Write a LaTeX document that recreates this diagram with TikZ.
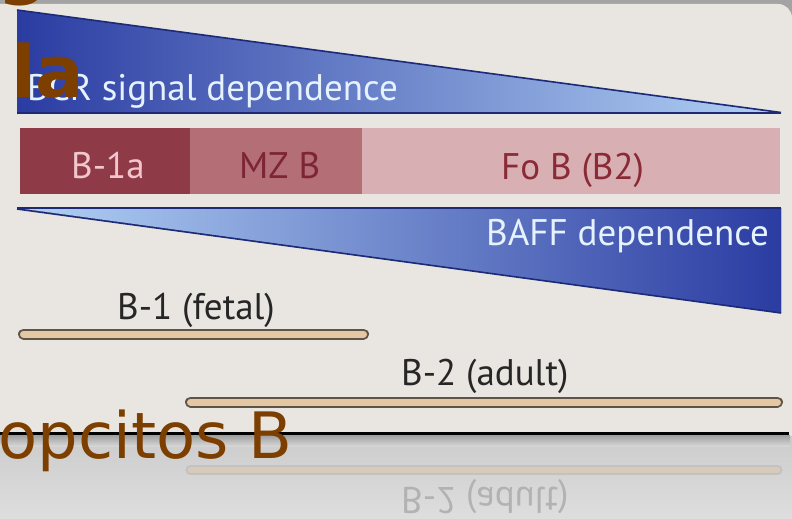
\documentclass[tikz,border=0pt]{standalone}
\usepackage{fontspec}
\setmainfont{PT Sans}
\newfontfamily\titlefont{DejaVu Sans}
\definecolor{bgc}{HTML}{E9E6E1}
\definecolor{topgrey}{HTML}{A3A3A3}
\definecolor{navy}{HTML}{1C2A78}
\definecolor{bluedark}{HTML}{2B3CA2}
\definecolor{bluemid}{HTML}{4A7CCA}
\definecolor{bluelight}{HTML}{B2D2F5}
\definecolor{wtext}{HTML}{E6F3FF}
\definecolor{boxa}{HTML}{8E3A47}
\definecolor{boxb}{HTML}{B36F75}
\definecolor{boxc}{HTML}{D8B0B4}
\definecolor{txta}{HTML}{F2C6CC}
\definecolor{txtb}{HTML}{7E2535}
\definecolor{txtc}{HTML}{8A2A36}
\definecolor{barout}{HTML}{5E5448}
\definecolor{barin}{HTML}{E4C8A4}
\definecolor{brown}{HTML}{7D3F00}
\tikzset{
  lbl/.style={anchor=base west, inner sep=0pt, font=\fontsize{37}{42}\selectfont},
  ttl/.style={anchor=base west, inner sep=0pt, text=brown},
}
\begin{document}
\begin{tikzpicture}[x=1pt,y=-1pt]
\useasboundingbox (0,0) rectangle (792,519);
% background
\fill[topgrey] (0,0) rectangle (792,519);
\fill[bgc] (0,436) -- (0,4) [rounded corners=14] -- (792,4) [sharp corners] -- (792,436) -- cycle;
\fill[top color=black!20, bottom color=black!13] (0,436) rectangle (792,519);
% BCR wedge
\fill[left color=bluedark, middle color=bluemid, right color=bluelight] (17,10) -- (781,113) -- (17,114) -- cycle;
\draw[navy, line width=1.6] (17,10) -- (781,112.5);
\draw[navy, line width=1.6] (17,113) -- (781,113);
\node[lbl, text=wtext] (bcr) at (27,100) {BCR signal dependence};
% bar
\fill[boxa] (20,128) rectangle (190,194);
\fill[boxb] (190,128) rectangle (362,194);
\fill[boxc] (362,128) rectangle (780,194);
\node[lbl, text=txta] (b1a) at (71,178) {B-1a};
\node[lbl, text=txtb] (mzb) at (239,178) {MZ B};
\node[lbl, text=txtc] (fob) at (501,179) {Fo B (B2)};
% BAFF wedge
\fill[left color=bluelight, middle color=bluemid, right color=bluedark] (17,208) -- (781,208) -- (781,313) -- cycle;
\draw[navy, line width=1.6] (17,208) -- (781,208);
\draw[navy, line width=1.6] (17,209) -- (781,313);
\node[lbl, text=wtext] (baff) at (486,245) {BAFF dependence};
% lineage bars
\node[lbl, text=black!85] (b1) at (117,319) {B-1 (fetal)};
\coordinate (b1s) at (23.5,334);
\coordinate (b1e) at (363.5,334);
\draw[barout, line width=11, line cap=round] (b1s) -- (b1e);
\draw[barin, line width=7, line cap=round] (b1s) -- (b1e);
\node[lbl, text=black!85] (b2) at (401,385) {B-2 (adult)};
\coordinate (b2s) at (190.5,402);
\coordinate (b2e) at (777.5,402);
\draw[barout, line width=11, line cap=round] (b2s) -- (b2e);
\draw[barin, line width=7, line cap=round] (b2s) -- (b2e);
% floor line and shadow
\fill[top color=black!38, bottom color=black!16] (0,435) rectangle (790,446);
\draw[black, line width=3] (0,433.5) -- (789,433.5);
% reflection
\coordinate (r2s) at (190.5,470);
\coordinate (r2e) at (777.5,470);
\draw[black!24, line width=10, line cap=round] (r2s) -- (r2e);
\draw[black!17!barin!60!white, line width=6, line cap=round] (r2s) -- (r2e);
\node[lbl, text=black!30, yscale=-1, transform shape] (b2r) at (401,487) {B-2 (adult)};
% title fragments
\begin{scope}
\clip (0,0) rectangle (792,519);
\node[ttl, font=\titlefont\bfseries\fontsize{72}{80}\selectfont] (tg) at (-3,-9) {g};
\end{scope}
\node[ttl, font=\titlefont\bfseries\fontsize{72}{80}\selectfont] (tla) at (11,97) {la};
\node[ttl, font=\titlefont\fontsize{64}{70}\selectfont] (top) at (-2,458) {opcitos B};
\end{tikzpicture}
\end{document}
